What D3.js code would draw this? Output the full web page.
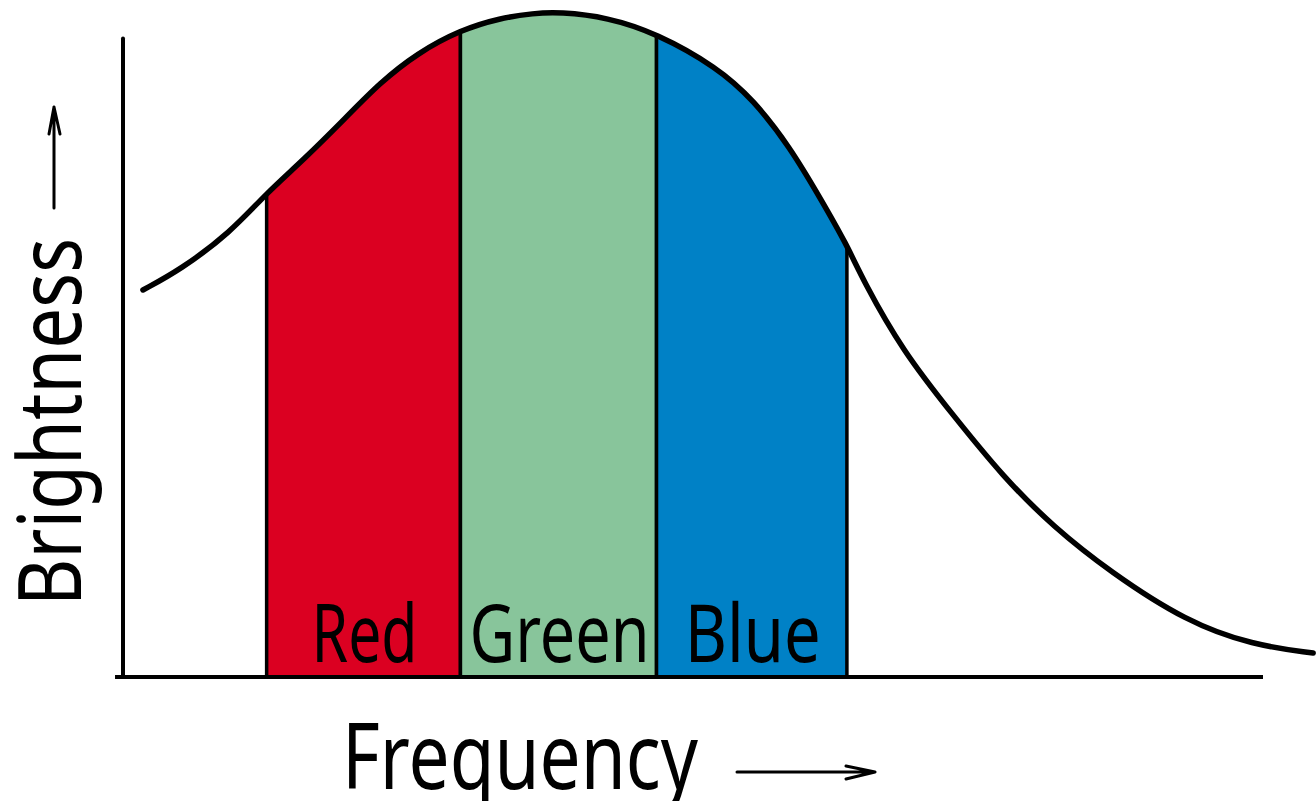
<!DOCTYPE html>
<html>
<head>
<meta charset="utf-8">
<script src="https://cdn.jsdelivr.net/npm/d3@7"></script>
<style>
  body { margin: 0; background: #fff; }
  text { font-family: "Noto Sans", "Open Sans", sans-serif; fill: #000; }
</style>
</head>
<body>
<div id="chart"></div>
<script>
// curve (frequency / brightness, arbitrary units)
var freq   = [1.75, 5.0, 9.4, 12.6, 15.8, 19.6, 22.5, 25.8, 29.6, 33.1, 36.0, 38.3, 42.5, 46.8,
              52.1, 55.3, 58.5, 61.1, 63.5, 64.9, 68.4, 72.8, 77.2, 81.6, 86.6, 93.3, 99.1, 104.4];
var bright = [58.2, 61.2, 66.8, 72.8, 77.7, 84.2, 89.3, 93.8, 97.3, 99.1, 99.8, 100, 99.2, 96.8,
              91.7, 86.8, 79.7, 72.2, 65.0, 59.7, 49.0, 39.4, 30.1, 22.6, 15.8, 8.3, 4.8, 3.6];

var bandNames  = ["Red", "Green", "Blue"];
var bandStart  = [12.6, 29.6, 46.8];
var bandEnd    = [29.6, 46.8, 63.5];
var bandColors = ["#db0021", "#88c59b", "#0081c6"];
var bandLabelW = [106, 180, 136];

var W = 1316, H = 801;

var x = d3.scaleLinear().domain([0, 100]).range([123, 1263]);
var y = d3.scaleLinear().domain([0, 100]).range([677, 12]);

var svg = d3.select("#chart").append("svg")
  .attr("width", W)
  .attr("height", H);

var pts = freq.map(function(f, i) { return [f, bright[i]]; });

var curve = d3.curveBasis;

var area = d3.area()
  .x(function(d) { return x(d[0]); })
  .y0(y(0))
  .y1(function(d) { return y(d[1]); })
  .curve(curve);

var line = d3.line()
  .x(function(d) { return x(d[0]); })
  .y(function(d) { return y(d[1]); })
  .curve(curve);

svg.append("clipPath")
  .attr("id", "under")
  .append("path")
  .attr("d", area(pts));

// coloured bands, clipped to the area under the curve
var bands = svg.append("g").attr("clip-path", "url(#under)");
bands.selectAll("rect")
  .data(bandNames)
  .enter().append("rect")
  .attr("x", function(d, i) { return x(bandStart[i]); })
  .attr("width", function(d, i) { return x(bandEnd[i]) - x(bandStart[i]); })
  .attr("y", y(110))
  .attr("height", y(0) - y(110))
  .attr("fill", function(d, i) { return bandColors[i]; })
  .attr("stroke", "#000")
  .attr("stroke-width", 3.5);

// axes
svg.append("line")
  .attr("x1", x(0)).attr("x2", x(0))
  .attr("y1", y(96)).attr("y2", y(0))
  .attr("stroke", "#000").attr("stroke-width", 4).attr("stroke-linecap", "round");
svg.append("line")
  .attr("x1", x(-0.7)).attr("x2", x(100))
  .attr("y1", y(0)).attr("y2", y(0))
  .attr("stroke", "#000").attr("stroke-width", 4);

// the curve
svg.append("path")
  .attr("d", line(pts))
  .attr("fill", "none")
  .attr("stroke", "#000")
  .attr("stroke-width", 5.5)
  .attr("stroke-linecap", "round")
  .attr("stroke-linejoin", "round");

// band labels
svg.selectAll(".band-label")
  .data(bandNames)
  .enter().append("text")
  .attr("class", "band-label")
  .attr("x", function(d, i) { return (x(bandStart[i]) + x(bandEnd[i])) / 2 - bandLabelW[i] / 2 + 1; })
  .attr("y", 662)
  .attr("font-size", 80)
  .attr("textLength", function(d, i) { return bandLabelW[i]; })
  .attr("lengthAdjust", "spacingAndGlyphs")
  .text(function(d) { return d; });

// axis titles
svg.append("text")
  .attr("x", 342)
  .attr("y", 789)
  .attr("font-size", 92)
  .attr("textLength", 356)
  .attr("lengthAdjust", "spacingAndGlyphs")
  .text("Frequency");

svg.append("text")
  .attr("transform", "translate(81,606) rotate(-90)")
  .attr("font-size", 88)
  .attr("textLength", 368)
  .attr("lengthAdjust", "spacingAndGlyphs")
  .text("Brightness");

// hand drawn arrows
var arrows = svg.append("g")
  .attr("fill", "none")
  .attr("stroke", "#000")
  .attr("stroke-width", 3)
  .attr("stroke-linecap", "round")
  .attr("stroke-linejoin", "round");

arrows.append("path").attr("d", "M737,772 L875,772 M875,772 L846,766 M875,772 L846,779");
arrows.append("path").attr("d", "M54,208 L54,107 M54,107 L49,134 M54,107 L60,134");
</script>
</body>
</html>
